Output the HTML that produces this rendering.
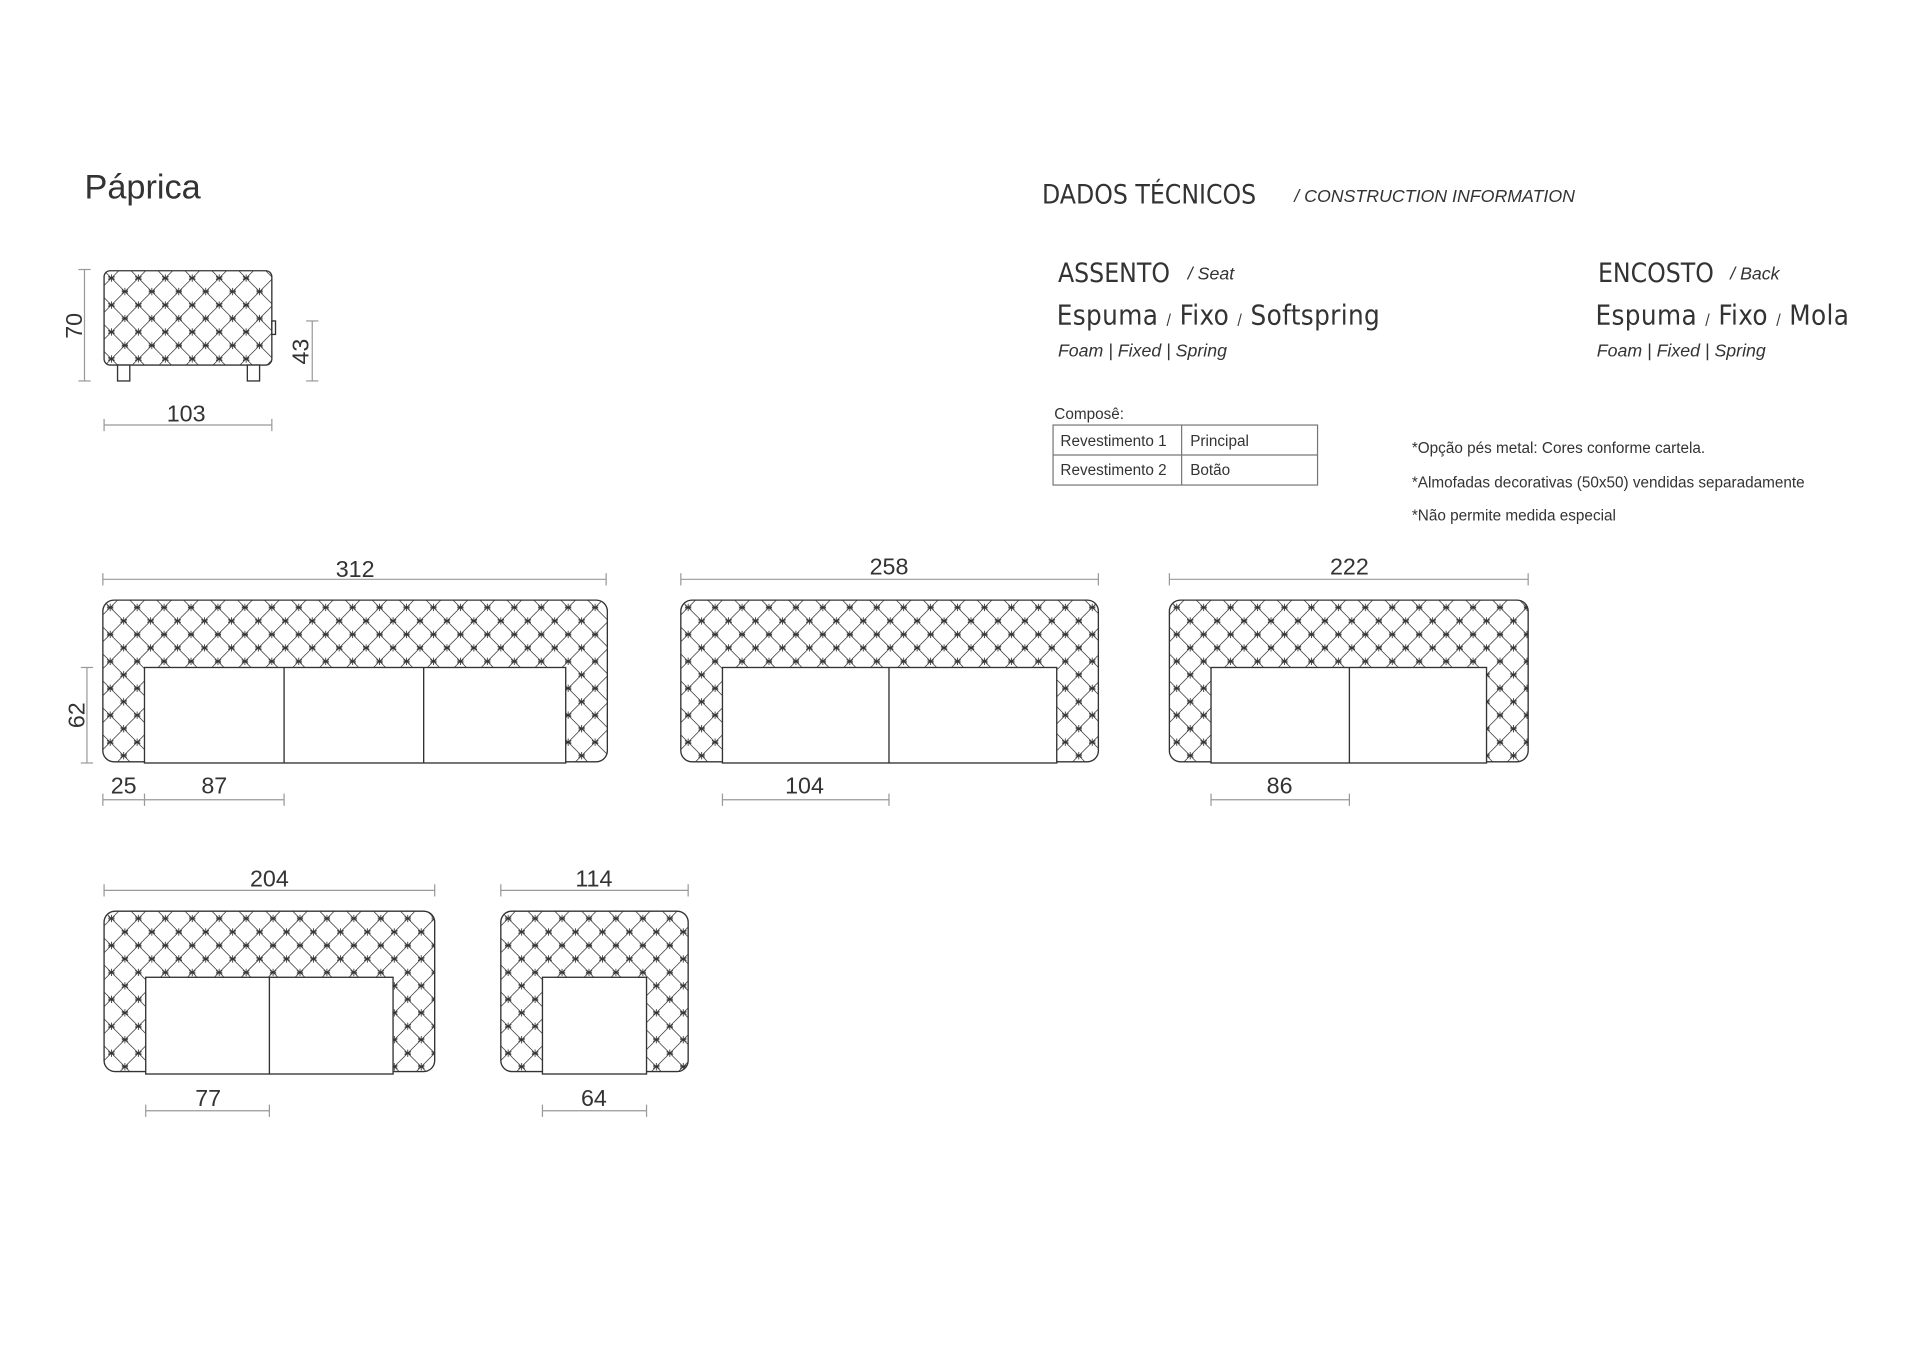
<!DOCTYPE html>
<html><head><meta charset="utf-8">
<style>
html,body{margin:0;padding:0;background:#fff;}
svg{display:block;}
text{font-family:"Liberation Sans",sans-serif;fill:#333;}
.n{font-family:"DejaVu Sans Condensed","DejaVu Sans","Liberation Sans",sans-serif;}
</style></head>
<body>
<svg id="s" width="1920" height="1357" viewBox="0 0 1568 1108" xmlns="http://www.w3.org/2000/svg">
<defs id="d"></defs>
<text x="69" y="162" font-size="28">Páprica</text>
<text class="n" x="851" y="166" font-size="21.5">DADOS TÉCNICOS</text>
<text x="1057" y="165" font-size="14.5" font-style="italic">/ CONSTRUCTION INFORMATION</text>
<text class="n" x="864" y="230" font-size="21.5">ASSENTO</text>
<text x="970" y="228" font-size="14.5" font-style="italic">/ Seat</text>
<text class="n" x="863" y="265" font-size="22.5" letter-spacing="0.3">Espuma  <tspan font-size="12">/</tspan> Fixo <tspan font-size="12">/</tspan> Softspring</text>
<text x="864" y="291" font-size="14.5" font-style="italic">Foam | Fixed | Spring</text>
<text class="n" x="1305" y="230" font-size="21.5">ENCOSTO</text>
<text x="1413" y="228" font-size="14.5" font-style="italic">/ Back</text>
<text class="n" x="1303" y="265" font-size="22.5" letter-spacing="0.3">Espuma  <tspan font-size="12">/</tspan> Fixo <tspan font-size="12">/</tspan> Mola</text>
<text x="1304" y="291" font-size="14.5" font-style="italic">Foam | Fixed | Spring</text>
<text x="861" y="342" font-size="12.5">Composê:</text>
<g stroke="#777" stroke-width="1" fill="none">
<rect x="860" y="347" width="216" height="49"/>
<line x1="860" y1="371.5" x2="1076" y2="371.5"/>
<line x1="965" y1="347" x2="965" y2="396"/>
</g>
<text x="866" y="364" font-size="12.5">Revestimento 1</text>
<text x="972" y="364" font-size="12.5">Principal</text>
<text x="866" y="388" font-size="12.5">Revestimento 2</text>
<text x="972" y="388" font-size="12.5">Botão</text>
<text x="1153" y="370" font-size="12.5">*Opção pés metal: Cores conforme cartela.</text>
<text x="1153" y="398" font-size="12.5">*Almofadas decorativas (50x50) vendidas separadamente</text>
<text x="1153" y="425" font-size="12.5">*Não permite medida especial</text>
<g id="g"></g>
</svg>
<script>
var NS="http://www.w3.org/2000/svg",G=document.getElementById('g'),D=document.getElementById('d'),cid=0;
function el(t,a,p){var e=document.createElementNS(NS,t);for(var k in a)e.setAttribute(k,a[k]);(p||G).appendChild(e);return e;}
function txt(x,y,s,rot){var a={x:x,y:y,'font-size':19,'text-anchor':'middle'};if(rot)a.transform='rotate(-90 '+x+' '+y+')';var t=el('text',a);t.textContent=s;}
function hdim(x1,x2,y,ticks){var g=el('g',{stroke:'#999','stroke-width':1});el('line',{x1:x1,y1:y,x2:x2,y2:y},g);(ticks||[x1,x2]).forEach(function(x){el('line',{x1:x,y1:y-5,x2:x,y2:y+5},g);});}
function vdim(x,y1,y2){var g=el('g',{stroke:'#999','stroke-width':1});el('line',{x1:x,y1:y1,x2:x,y2:y2},g);el('line',{x1:x-5,y1:y1,x2:x+5,y2:y1},g);el('line',{x1:x-5,y1:y2,x2:x+5,y2:y2},g);}
function tuft(x1,y1,x2,y2,rx){
  var id='c'+(cid++);var cp=el('clipPath',{id:id},D);el('rect',{x:x1,y:y1,width:x2-x1,height:y2-y1,rx:rx},cp);
  var g=el('g',{'clip-path':'url(#'+id+')',stroke:'#444','stroke-width':0.65,fill:'none'});
  var ox=x1+6,oy=y1+6;
  for(var k=-40;k<60;k++){var a=ox-oy+k*22;el('line',{x1:a+y1-20,y1:y1-20,x2:a+y2+20,y2:y2+20},g);
    var b=ox+oy+k*22;el('line',{x1:b-(y1-20),y1:y1-20,x2:b-(y2+20),y2:y2+20},g);}
  var sg=el('g',{stroke:'#333','stroke-width':0.7,'clip-path':'url(#'+id+')'});
  for(var j=0;oy+j*11<y2;j++){for(var i=-1;;i++){var x=ox+(j%2?11:0)+i*22,y=oy+j*11;if(x>x2)break;if(x<x1)continue;
    for(var r=0;r<3;r++){var an=r*Math.PI/3+Math.PI/2,dx=3*Math.cos(an),dy=3*Math.sin(an);el('line',{x1:x-dx,y1:y-dy,x2:x+dx,y2:y+dy},sg);}
    el('line',{x1:x-2.5,y1:y,x2:x+2.5,y2:y},sg);}}
  el('rect',{x:x1,y:y1,width:x2-x1,height:y2-y1,rx:rx,fill:'none',stroke:'#333','stroke-width':1.1});
}
function sofa(x1,x2,y1,y2,arm,st,sb,divs){
  tuft(x1,y1,x2,y2,9);
  var g=el('g',{stroke:'#333','stroke-width':1.1,fill:'#fff'});
  el('rect',{x:x1+arm,y:st,width:x2-x1-2*arm,height:sb-st},g);
  divs.forEach(function(d){el('line',{x1:d,y1:st,x2:d,y2:sb},g);});
}
tuft(85,221,222,298,5);
var og=el('g',{stroke:'#333','stroke-width':1.1,fill:'#fff'});
el('rect',{x:96,y:298,width:10,height:13},og);el('rect',{x:202,y:298,width:10,height:13},og);
el('rect',{x:222,y:262,width:3,height:11},og);
vdim(69,220,311);txt(67,266,'70',true);
vdim(255,262,311);txt(252,287,'43',true);
hdim(85,222,347);txt(152,344,'103');
sofa(84,496,490,622,34,545,623,[232,346]);
hdim(84,495,473);txt(290,471,'312');
vdim(71,545,623);txt(69,584,'62',true);
hdim(84,232,653,[84,118,232]);txt(101,648,'25');txt(175,648,'87');
sofa(556,897,490,622,34,545,623,[726]);
hdim(556,897,473);txt(726,469,'258');
hdim(590,726,653);txt(657,648,'104');
sofa(955,1248,490,622,34,545,623,[1102]);
hdim(955,1248,473);txt(1102,469,'222');
hdim(989,1102,653);txt(1045,648,'86');
sofa(85,355,744,875,34,798,877,[220]);
hdim(85,355,727);txt(220,724,'204');
hdim(119,220,907);txt(170,903,'77');
sofa(409,562,744,875,34,798,877,[]);
hdim(409,562,727);txt(485,724,'114');
hdim(443,528,907);txt(485,903,'64');
</script>
</body></html>
